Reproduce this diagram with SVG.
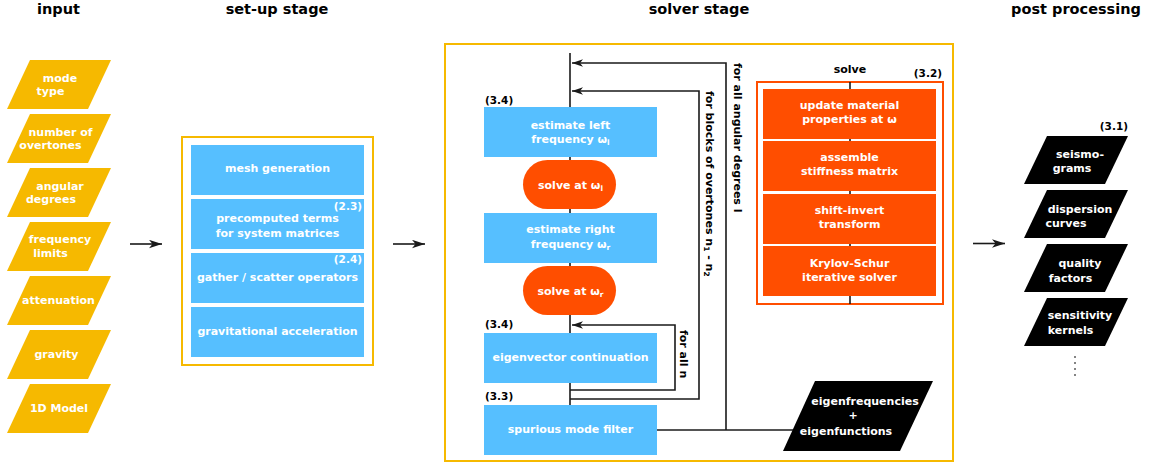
<svg xmlns="http://www.w3.org/2000/svg" width="1153" height="466" viewBox="0 0 1153 466">
<style>
text{font-family:"DejaVu Sans","Liberation Sans",sans-serif;font-weight:bold;font-size:11px}
.w{fill:#fff;text-anchor:middle}
.k{fill:#000}
.title{font-size:14.5px;text-anchor:middle;fill:#000}
.lab{font-size:10.5px}
.inp{fill:#F6B900}
.blue{fill:#56BFFF}
.red{fill:#FF4E00}
.blk{fill:#000}
.frame{fill:#fff;stroke:#F6B900;stroke-width:2}
.frame2{fill:#fff;stroke:#FF4E00;stroke-width:2}
.ln{fill:none;stroke:#1a1a1a;stroke-width:1.6}
.sub{font-size:7.5px}
</style>
<defs>
<marker id="arr" viewBox="0 0 11 8" refX="11" refY="4" markerWidth="11" markerHeight="8" markerUnits="userSpaceOnUse" orient="auto">
<path d="M0,0.3 L11,4 L0,7.7 L3,4 Z" fill="#1a1a1a"/>
</marker>
<marker id="arrBig" viewBox="0 0 13 9" refX="13" refY="4.5" markerWidth="13" markerHeight="9" markerUnits="userSpaceOnUse" orient="auto">
<path d="M0,0.3 L13,4.5 L0,8.7 L3.5,4.5 Z" fill="#1a1a1a"/>
</marker>
</defs>
<rect width="1153" height="466" fill="#fff"/>

<g id="titles">
<text class="title" x="58.5" y="14">input</text>
<text class="title" x="277" y="14">set-up stage</text>
<text class="title" x="699" y="14">solver stage</text>
<text class="title" x="1076" y="14">post processing</text>
</g>

<g id="setup-frame"><rect class="frame" x="182" y="137" width="191" height="228"/></g>
<g id="solver-frame"><rect class="frame" x="445" y="44" width="508" height="417"/></g>

<g id="in-mode"><polygon class="inp" points="30,60 111,60 88,109 7,109"/><text class="w" x="60" y="81.5">mode</text><text class="w" x="50.5" y="95">type</text></g>
<g id="in-overtones"><polygon class="inp" points="30,114 111,114 88,163 7,163"/><text class="w" x="60.5" y="135.5">number of</text><text class="w" x="50.5" y="149">overtones</text></g>
<g id="in-degrees"><polygon class="inp" points="30,168 111,168 88,217 7,217"/><text class="w" x="60" y="189.5">angular</text><text class="w" x="51" y="203">degrees</text></g>
<g id="in-freq"><polygon class="inp" points="30,222 111,222 88,271 7,271"/><text class="w" x="60" y="243">frequency</text><text class="w" x="50.5" y="257">limits</text></g>
<g id="in-atten"><polygon class="inp" points="30,276 111,276 88,325 7,325"/><text class="w" x="58.5" y="304">attenuation</text></g>
<g id="in-gravity"><polygon class="inp" points="30,330 111,330 88,379 7,379"/><text class="w" x="56.5" y="358">gravity</text></g>
<g id="in-model"><polygon class="inp" points="30,384 111,384 88,433 7,433"/><text class="w" x="59" y="412">1D Model</text></g>

<g id="mesh"><rect class="blue" x="191" y="145" width="173" height="50"/><text class="w" x="277.5" y="172">mesh generation</text></g>
<g id="precomp"><rect class="blue" x="191" y="199" width="173" height="50"/><text class="w lab" x="362" y="209.5" style="text-anchor:end">(2.3)</text><text class="w" x="277.5" y="222">precomputed terms</text><text class="w" x="277.5" y="236.5">for system matrices</text></g>
<g id="gather"><rect class="blue" x="191" y="253" width="173" height="50"/><text class="w lab" x="362" y="263" style="text-anchor:end">(2.4)</text><text class="w" x="277.5" y="281">gather / scatter operators</text></g>
<g id="gravacc"><rect class="blue" x="191" y="307" width="173" height="50"/><text class="w" x="277.5" y="335">gravitational acceleration</text></g>

<g id="connectors">
<line class="ln" x1="130" y1="244" x2="162" y2="244" marker-end="url(#arrBig)"/>
<line class="ln" x1="393" y1="244" x2="425" y2="244" marker-end="url(#arrBig)"/>
<line class="ln" x1="973" y1="243.5" x2="1005" y2="243.5" marker-end="url(#arrBig)"/>
<line class="ln" x1="570" y1="53" x2="570" y2="405"/>
<polyline class="ln" points="726,430 726,63 572,63" marker-end="url(#arr)"/>
<polyline class="ln" points="570,399 699,399 699,91 572,91" marker-end="url(#arr)"/>
<polyline class="ln" points="570,390 675,390 675,325 572,325" marker-end="url(#arr)"/>
<line class="ln" x1="657" y1="430" x2="794" y2="430"/>
</g>

<g id="loop-labels">
<text class="k" transform="translate(733.5,63) rotate(90)">for all angular degrees l</text>
<text class="k" transform="translate(705.5,91) rotate(90)">for blocks of overtones n<tspan class="sub" dy="2">1</tspan><tspan dy="-2"> - n</tspan><tspan class="sub" dy="2">2</tspan></text>
<text class="k" transform="translate(679.5,330) rotate(90)">for all n</text>
</g>

<g id="est-left"><text class="k lab" x="485" y="103.5">(3.4)</text><rect class="blue" x="484" y="107" width="173" height="50"/><text class="w" x="570.5" y="128.5">estimate left</text><text class="w" x="570.5" y="142.7">frequency ω<tspan class="sub" dy="2">l</tspan></text></g>
<g id="solve-left"><rect class="red" x="523" y="160" width="93" height="49" rx="24.5"/><text class="w" x="570.5" y="189">solve at ω<tspan class="sub" dy="2">l</tspan></text></g>
<g id="est-right"><rect class="blue" x="484" y="213" width="173" height="50"/><text class="w" x="570.5" y="233.4">estimate right</text><text class="w" x="570.5" y="247.7">frequency ω<tspan class="sub" dy="2">r</tspan></text></g>
<g id="solve-right"><rect class="red" x="523" y="266" width="93" height="49" rx="24.5"/><text class="w" x="570.5" y="295">solve at ω<tspan class="sub" dy="2">r</tspan></text></g>
<g id="eigvec"><text class="k lab" x="485" y="327.5">(3.4)</text><rect class="blue" x="484" y="333" width="173" height="50"/><text class="w" x="570.5" y="361">eigenvector continuation</text></g>
<g id="spurious"><text class="k lab" x="485" y="399.5">(3.3)</text><rect class="blue" x="484" y="405" width="173" height="50"/><text class="w" x="570.5" y="433">spurious mode filter</text></g>

<g id="solve">
<text class="k" x="850" y="73.3" style="text-anchor:middle">solve</text>
<text class="k lab" x="942" y="76.5" style="text-anchor:end">(3.2)</text>
<rect class="frame2" x="757" y="82" width="186" height="222"/>
<line class="ln" x1="850" y1="82" x2="850" y2="304"/>
</g>
<g id="update"><rect class="red" x="763" y="89" width="173" height="50"/><text class="w" x="849.5" y="108.5">update material</text><text class="w" x="849.5" y="123">properties at ω</text></g>
<g id="assemble"><rect class="red" x="763" y="141" width="173" height="50"/><text class="w" x="849.5" y="160.5">assemble</text><text class="w" x="849.5" y="175">stiffness matrix</text></g>
<g id="shift"><rect class="red" x="763" y="194" width="173" height="50"/><text class="w" x="849.5" y="213.5">shift-invert</text><text class="w" x="849.5" y="228">transform</text></g>
<g id="krylov"><rect class="red" x="763" y="246" width="173" height="50"/><text class="w" x="849.5" y="266.5">Krylov-Schur</text><text class="w" x="849.5" y="281">iterative solver</text></g>

<g id="eigen-out"><polygon class="blk" points="815,381 933,381 900,451 783,451"/><text class="w" x="865" y="404.5">eigenfrequencies</text><text class="w" x="853" y="419">+</text><text class="w" x="846" y="435">eigenfunctions</text></g>

<g id="post-seismo"><text class="k lab" x="1128" y="130" style="text-anchor:end">(3.1)</text><polygon class="blk" points="1047,136 1128,136 1105,184 1024,184"/><text class="w" x="1080" y="158">seismo-</text><text class="w" x="1072" y="172">grams</text></g>
<g id="post-disp"><polygon class="blk" points="1047,190 1128,190 1105,238 1024,238"/><text class="w" x="1080" y="212.5">dispersion</text><text class="w" x="1066" y="226.5">curves</text></g>
<g id="post-quality"><polygon class="blk" points="1047,244 1128,244 1105,292 1024,292"/><text class="w" x="1080" y="267">quality</text><text class="w" x="1070.5" y="282">factors</text></g>
<g id="post-kernels"><polygon class="blk" points="1047,298 1128,298 1105,346 1024,346"/><text class="w" x="1080" y="319">sensitivity</text><text class="w" x="1070.5" y="333.5">kernels</text></g>
<g id="post-more"><line x1="1075" y1="356.2" x2="1075" y2="377" stroke="#333" stroke-width="1.6" stroke-dasharray="1.6 4.4"/></g>
</svg>
